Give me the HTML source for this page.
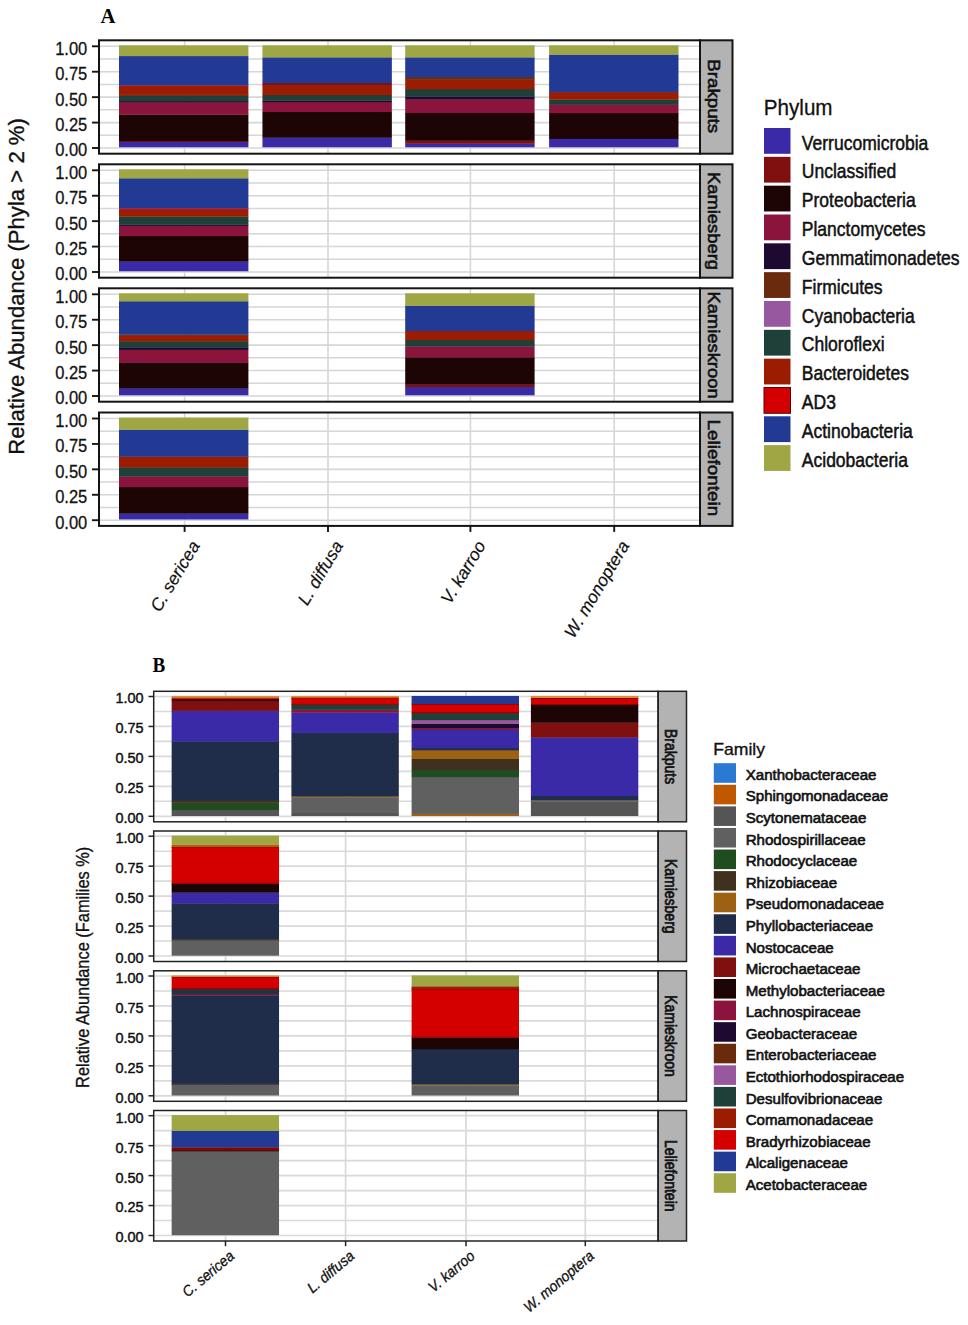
<!DOCTYPE html>
<html><head><meta charset="utf-8"><title>Figure</title>
<style>html,body{margin:0;padding:0;background:#fff;}body{width:968px;height:1325px;position:relative;overflow:hidden;font-family:"Liberation Sans", sans-serif;}</style>
</head><body>
<svg width="968" height="1325" viewBox="0 0 968 1325" style="position:absolute;left:0;top:0;display:block">
<rect x="0.00" y="0.00" width="968.00" height="1325.00" fill="#ffffff" />
<rect x="99.00" y="40.30" width="601.00" height="113.40" fill="#ffffff" />
<line x1="99.00" y1="148.00" x2="700.00" y2="148.00" stroke="#d6d6d6" stroke-width="1.6"/>
<line x1="99.00" y1="135.29" x2="700.00" y2="135.29" stroke="#d6d6d6" stroke-width="1.5"/>
<line x1="99.00" y1="122.58" x2="700.00" y2="122.58" stroke="#d6d6d6" stroke-width="1.6"/>
<line x1="99.00" y1="109.86" x2="700.00" y2="109.86" stroke="#d6d6d6" stroke-width="1.5"/>
<line x1="99.00" y1="97.15" x2="700.00" y2="97.15" stroke="#d6d6d6" stroke-width="1.6"/>
<line x1="99.00" y1="84.44" x2="700.00" y2="84.44" stroke="#d6d6d6" stroke-width="1.5"/>
<line x1="99.00" y1="71.72" x2="700.00" y2="71.72" stroke="#d6d6d6" stroke-width="1.6"/>
<line x1="99.00" y1="59.01" x2="700.00" y2="59.01" stroke="#d6d6d6" stroke-width="1.5"/>
<line x1="99.00" y1="46.30" x2="700.00" y2="46.30" stroke="#d6d6d6" stroke-width="1.6"/>
<line x1="184.60" y1="40.30" x2="184.60" y2="153.70" stroke="#d6d6d6" stroke-width="1.6"/>
<line x1="328.00" y1="40.30" x2="328.00" y2="153.70" stroke="#d6d6d6" stroke-width="1.6"/>
<line x1="470.40" y1="40.30" x2="470.40" y2="153.70" stroke="#d6d6d6" stroke-width="1.6"/>
<line x1="614.20" y1="40.30" x2="614.20" y2="153.70" stroke="#d6d6d6" stroke-width="1.6"/>
<rect x="119.00" y="141.71" width="129.40" height="5.59" fill="#3a2aa8" />
<rect x="119.00" y="140.80" width="129.40" height="1.22" fill="#801010" />
<rect x="119.00" y="114.46" width="129.40" height="26.64" fill="#1e0505" />
<rect x="119.00" y="102.15" width="129.40" height="12.61" fill="#8b143c" />
<rect x="119.00" y="101.03" width="129.40" height="1.42" fill="#1e0a30" />
<rect x="119.00" y="95.64" width="129.40" height="5.69" fill="#1f4038" />
<rect x="119.00" y="94.62" width="129.40" height="1.32" fill="#6a2a0e" />
<rect x="119.00" y="85.98" width="129.40" height="8.94" fill="#9b1c00" />
<rect x="119.00" y="85.27" width="129.40" height="1.01" fill="#d40000" />
<rect x="119.00" y="55.88" width="129.40" height="29.69" fill="#223a94" />
<rect x="119.00" y="45.30" width="129.40" height="10.88" fill="#9fa644" />
<rect x="262.45" y="137.44" width="129.40" height="9.86" fill="#3a2aa8" />
<rect x="262.45" y="111.71" width="129.40" height="26.03" fill="#1e0505" />
<rect x="262.45" y="101.85" width="129.40" height="10.16" fill="#8b143c" />
<rect x="262.45" y="100.42" width="129.40" height="1.72" fill="#1e0a30" />
<rect x="262.45" y="94.83" width="129.40" height="5.89" fill="#1f4038" />
<rect x="262.45" y="85.57" width="129.40" height="9.55" fill="#9b1c00" />
<rect x="262.45" y="82.93" width="129.40" height="2.94" fill="#801010" />
<rect x="262.45" y="57.20" width="129.40" height="26.03" fill="#223a94" />
<rect x="262.45" y="45.30" width="129.40" height="12.20" fill="#9fa644" />
<rect x="405.20" y="143.44" width="129.40" height="3.86" fill="#3a2aa8" />
<rect x="405.20" y="140.49" width="129.40" height="3.25" fill="#801010" />
<rect x="405.20" y="112.73" width="129.40" height="28.06" fill="#1e0505" />
<rect x="405.20" y="99.20" width="129.40" height="13.83" fill="#8b143c" />
<rect x="405.20" y="96.25" width="129.40" height="3.25" fill="#1e0a30" />
<rect x="405.20" y="88.93" width="129.40" height="7.62" fill="#1f4038" />
<rect x="405.20" y="79.57" width="129.40" height="9.66" fill="#9b1c00" />
<rect x="405.20" y="77.03" width="129.40" height="2.84" fill="#6a2a0e" />
<rect x="405.20" y="57.20" width="129.40" height="20.13" fill="#223a94" />
<rect x="405.20" y="45.30" width="129.40" height="12.20" fill="#9fa644" />
<rect x="549.10" y="138.66" width="129.40" height="8.64" fill="#3a2aa8" />
<rect x="549.10" y="112.93" width="129.40" height="26.03" fill="#1e0505" />
<rect x="549.10" y="104.59" width="129.40" height="8.64" fill="#8b143c" />
<rect x="549.10" y="99.40" width="129.40" height="5.49" fill="#1f4038" />
<rect x="549.10" y="92.08" width="129.40" height="7.62" fill="#9b1c00" />
<rect x="549.10" y="54.45" width="129.40" height="37.93" fill="#223a94" />
<rect x="549.10" y="45.30" width="129.40" height="9.45" fill="#9fa644" />
<rect x="700.00" y="40.30" width="32.50" height="113.40" fill="#b3b3b3" stroke="#141414" stroke-width="2"/>
<rect x="99.00" y="40.30" width="601.00" height="113.40" fill="none" stroke="#141414" stroke-width="2"/>
<text transform="translate(708.00,96.20) scale(0.92,1) rotate(90)" font-family='"Liberation Sans", sans-serif' font-size="18.767999999999997" text-anchor="middle" font-weight="normal" font-style="normal" fill="#111" stroke="#111" stroke-width="0.65">Brakputs</text>
<line x1="92.00" y1="148.00" x2="99.00" y2="148.00" stroke="#141414" stroke-width="1.9"/>
<text transform="translate(87.30,156.40) scale(0.865,1)" font-family='"Liberation Sans", sans-serif' font-size="19.1" text-anchor="end" font-weight="normal" font-style="normal" fill="#111" stroke="#111" stroke-width="0.3">0.00</text>
<line x1="92.00" y1="122.58" x2="99.00" y2="122.58" stroke="#141414" stroke-width="1.9"/>
<text transform="translate(87.30,130.97) scale(0.865,1)" font-family='"Liberation Sans", sans-serif' font-size="19.1" text-anchor="end" font-weight="normal" font-style="normal" fill="#111" stroke="#111" stroke-width="0.3">0.25</text>
<line x1="92.00" y1="97.15" x2="99.00" y2="97.15" stroke="#141414" stroke-width="1.9"/>
<text transform="translate(87.30,105.55) scale(0.865,1)" font-family='"Liberation Sans", sans-serif' font-size="19.1" text-anchor="end" font-weight="normal" font-style="normal" fill="#111" stroke="#111" stroke-width="0.3">0.50</text>
<line x1="92.00" y1="71.72" x2="99.00" y2="71.72" stroke="#141414" stroke-width="1.9"/>
<text transform="translate(87.30,80.12) scale(0.865,1)" font-family='"Liberation Sans", sans-serif' font-size="19.1" text-anchor="end" font-weight="normal" font-style="normal" fill="#111" stroke="#111" stroke-width="0.3">0.75</text>
<line x1="92.00" y1="46.30" x2="99.00" y2="46.30" stroke="#141414" stroke-width="1.9"/>
<text transform="translate(87.30,54.70) scale(0.865,1)" font-family='"Liberation Sans", sans-serif' font-size="19.1" text-anchor="end" font-weight="normal" font-style="normal" fill="#111" stroke="#111" stroke-width="0.3">1.00</text>
<rect x="99.00" y="164.30" width="601.00" height="113.40" fill="#ffffff" />
<line x1="99.00" y1="272.00" x2="700.00" y2="272.00" stroke="#d6d6d6" stroke-width="1.6"/>
<line x1="99.00" y1="259.29" x2="700.00" y2="259.29" stroke="#d6d6d6" stroke-width="1.5"/>
<line x1="99.00" y1="246.57" x2="700.00" y2="246.57" stroke="#d6d6d6" stroke-width="1.6"/>
<line x1="99.00" y1="233.86" x2="700.00" y2="233.86" stroke="#d6d6d6" stroke-width="1.5"/>
<line x1="99.00" y1="221.15" x2="700.00" y2="221.15" stroke="#d6d6d6" stroke-width="1.6"/>
<line x1="99.00" y1="208.44" x2="700.00" y2="208.44" stroke="#d6d6d6" stroke-width="1.5"/>
<line x1="99.00" y1="195.73" x2="700.00" y2="195.73" stroke="#d6d6d6" stroke-width="1.6"/>
<line x1="99.00" y1="183.01" x2="700.00" y2="183.01" stroke="#d6d6d6" stroke-width="1.5"/>
<line x1="99.00" y1="170.30" x2="700.00" y2="170.30" stroke="#d6d6d6" stroke-width="1.6"/>
<line x1="184.60" y1="164.30" x2="184.60" y2="277.70" stroke="#d6d6d6" stroke-width="1.6"/>
<line x1="328.00" y1="164.30" x2="328.00" y2="277.70" stroke="#d6d6d6" stroke-width="1.6"/>
<line x1="470.40" y1="164.30" x2="470.40" y2="277.70" stroke="#d6d6d6" stroke-width="1.6"/>
<line x1="614.20" y1="164.30" x2="614.20" y2="277.70" stroke="#d6d6d6" stroke-width="1.6"/>
<rect x="119.00" y="261.24" width="129.40" height="10.06" fill="#3a2aa8" />
<rect x="119.00" y="235.91" width="129.40" height="25.62" fill="#1e0505" />
<rect x="119.00" y="225.64" width="129.40" height="10.57" fill="#8b143c" />
<rect x="119.00" y="224.32" width="129.40" height="1.62" fill="#1e0a30" />
<rect x="119.00" y="216.39" width="129.40" height="8.23" fill="#1f4038" />
<rect x="119.00" y="209.67" width="129.40" height="7.01" fill="#9b1c00" />
<rect x="119.00" y="208.35" width="129.40" height="1.62" fill="#d40000" />
<rect x="119.00" y="178.15" width="129.40" height="30.50" fill="#223a94" />
<rect x="119.00" y="169.30" width="129.40" height="9.15" fill="#9fa644" />
<rect x="700.00" y="164.30" width="32.50" height="113.40" fill="#b3b3b3" stroke="#141414" stroke-width="2"/>
<rect x="99.00" y="164.30" width="601.00" height="113.40" fill="none" stroke="#141414" stroke-width="2"/>
<text transform="translate(708.00,221.00) scale(0.92,1) rotate(90)" font-family='"Liberation Sans", sans-serif' font-size="18.4" text-anchor="middle" font-weight="normal" font-style="normal" fill="#111" stroke="#111" stroke-width="0.65">Kamiesberg</text>
<line x1="92.00" y1="272.00" x2="99.00" y2="272.00" stroke="#141414" stroke-width="1.9"/>
<text transform="translate(87.30,280.40) scale(0.865,1)" font-family='"Liberation Sans", sans-serif' font-size="19.1" text-anchor="end" font-weight="normal" font-style="normal" fill="#111" stroke="#111" stroke-width="0.3">0.00</text>
<line x1="92.00" y1="246.57" x2="99.00" y2="246.57" stroke="#141414" stroke-width="1.9"/>
<text transform="translate(87.30,254.97) scale(0.865,1)" font-family='"Liberation Sans", sans-serif' font-size="19.1" text-anchor="end" font-weight="normal" font-style="normal" fill="#111" stroke="#111" stroke-width="0.3">0.25</text>
<line x1="92.00" y1="221.15" x2="99.00" y2="221.15" stroke="#141414" stroke-width="1.9"/>
<text transform="translate(87.30,229.55) scale(0.865,1)" font-family='"Liberation Sans", sans-serif' font-size="19.1" text-anchor="end" font-weight="normal" font-style="normal" fill="#111" stroke="#111" stroke-width="0.3">0.50</text>
<line x1="92.00" y1="195.73" x2="99.00" y2="195.73" stroke="#141414" stroke-width="1.9"/>
<text transform="translate(87.30,204.13) scale(0.865,1)" font-family='"Liberation Sans", sans-serif' font-size="19.1" text-anchor="end" font-weight="normal" font-style="normal" fill="#111" stroke="#111" stroke-width="0.3">0.75</text>
<line x1="92.00" y1="170.30" x2="99.00" y2="170.30" stroke="#141414" stroke-width="1.9"/>
<text transform="translate(87.30,178.70) scale(0.865,1)" font-family='"Liberation Sans", sans-serif' font-size="19.1" text-anchor="end" font-weight="normal" font-style="normal" fill="#111" stroke="#111" stroke-width="0.3">1.00</text>
<rect x="99.00" y="288.30" width="601.00" height="113.40" fill="#ffffff" />
<line x1="99.00" y1="396.00" x2="700.00" y2="396.00" stroke="#d6d6d6" stroke-width="1.6"/>
<line x1="99.00" y1="383.29" x2="700.00" y2="383.29" stroke="#d6d6d6" stroke-width="1.5"/>
<line x1="99.00" y1="370.57" x2="700.00" y2="370.57" stroke="#d6d6d6" stroke-width="1.6"/>
<line x1="99.00" y1="357.86" x2="700.00" y2="357.86" stroke="#d6d6d6" stroke-width="1.5"/>
<line x1="99.00" y1="345.15" x2="700.00" y2="345.15" stroke="#d6d6d6" stroke-width="1.6"/>
<line x1="99.00" y1="332.44" x2="700.00" y2="332.44" stroke="#d6d6d6" stroke-width="1.5"/>
<line x1="99.00" y1="319.73" x2="700.00" y2="319.73" stroke="#d6d6d6" stroke-width="1.6"/>
<line x1="99.00" y1="307.01" x2="700.00" y2="307.01" stroke="#d6d6d6" stroke-width="1.5"/>
<line x1="99.00" y1="294.30" x2="700.00" y2="294.30" stroke="#d6d6d6" stroke-width="1.6"/>
<line x1="184.60" y1="288.30" x2="184.60" y2="401.70" stroke="#d6d6d6" stroke-width="1.6"/>
<line x1="328.00" y1="288.30" x2="328.00" y2="401.70" stroke="#d6d6d6" stroke-width="1.6"/>
<line x1="470.40" y1="288.30" x2="470.40" y2="401.70" stroke="#d6d6d6" stroke-width="1.6"/>
<line x1="614.20" y1="288.30" x2="614.20" y2="401.70" stroke="#d6d6d6" stroke-width="1.6"/>
<rect x="119.00" y="388.29" width="129.40" height="7.01" fill="#3a2aa8" />
<rect x="119.00" y="362.66" width="129.40" height="25.93" fill="#1e0505" />
<rect x="119.00" y="349.64" width="129.40" height="13.32" fill="#8b143c" />
<rect x="119.00" y="347.20" width="129.40" height="2.74" fill="#1e0a30" />
<rect x="119.00" y="341.10" width="129.40" height="6.40" fill="#1f4038" />
<rect x="119.00" y="335.61" width="129.40" height="5.79" fill="#9b1c00" />
<rect x="119.00" y="334.29" width="129.40" height="1.62" fill="#6a2a0e" />
<rect x="119.00" y="301.13" width="129.40" height="33.45" fill="#223a94" />
<rect x="119.00" y="293.30" width="129.40" height="8.13" fill="#9fa644" />
<rect x="405.20" y="386.86" width="129.40" height="8.44" fill="#3a2aa8" />
<rect x="405.20" y="384.22" width="129.40" height="2.94" fill="#801010" />
<rect x="405.20" y="357.17" width="129.40" height="27.35" fill="#1e0505" />
<rect x="405.20" y="346.29" width="129.40" height="11.18" fill="#8b143c" />
<rect x="405.20" y="339.78" width="129.40" height="6.81" fill="#1f4038" />
<rect x="405.20" y="330.83" width="129.40" height="9.25" fill="#9b1c00" />
<rect x="405.20" y="305.61" width="129.40" height="25.52" fill="#223a94" />
<rect x="405.20" y="293.30" width="129.40" height="12.61" fill="#9fa644" />
<rect x="700.00" y="288.30" width="32.50" height="113.40" fill="#b3b3b3" stroke="#141414" stroke-width="2"/>
<rect x="99.00" y="288.30" width="601.00" height="113.40" fill="none" stroke="#141414" stroke-width="2"/>
<text transform="translate(708.00,345.00) scale(0.92,1) rotate(90)" font-family='"Liberation Sans", sans-serif' font-size="18.4" text-anchor="middle" font-weight="normal" font-style="normal" fill="#111" stroke="#111" stroke-width="0.65">Kamieskroon</text>
<line x1="92.00" y1="396.00" x2="99.00" y2="396.00" stroke="#141414" stroke-width="1.9"/>
<text transform="translate(87.30,404.40) scale(0.865,1)" font-family='"Liberation Sans", sans-serif' font-size="19.1" text-anchor="end" font-weight="normal" font-style="normal" fill="#111" stroke="#111" stroke-width="0.3">0.00</text>
<line x1="92.00" y1="370.57" x2="99.00" y2="370.57" stroke="#141414" stroke-width="1.9"/>
<text transform="translate(87.30,378.97) scale(0.865,1)" font-family='"Liberation Sans", sans-serif' font-size="19.1" text-anchor="end" font-weight="normal" font-style="normal" fill="#111" stroke="#111" stroke-width="0.3">0.25</text>
<line x1="92.00" y1="345.15" x2="99.00" y2="345.15" stroke="#141414" stroke-width="1.9"/>
<text transform="translate(87.30,353.55) scale(0.865,1)" font-family='"Liberation Sans", sans-serif' font-size="19.1" text-anchor="end" font-weight="normal" font-style="normal" fill="#111" stroke="#111" stroke-width="0.3">0.50</text>
<line x1="92.00" y1="319.73" x2="99.00" y2="319.73" stroke="#141414" stroke-width="1.9"/>
<text transform="translate(87.30,328.12) scale(0.865,1)" font-family='"Liberation Sans", sans-serif' font-size="19.1" text-anchor="end" font-weight="normal" font-style="normal" fill="#111" stroke="#111" stroke-width="0.3">0.75</text>
<line x1="92.00" y1="294.30" x2="99.00" y2="294.30" stroke="#141414" stroke-width="1.9"/>
<text transform="translate(87.30,302.70) scale(0.865,1)" font-family='"Liberation Sans", sans-serif' font-size="19.1" text-anchor="end" font-weight="normal" font-style="normal" fill="#111" stroke="#111" stroke-width="0.3">1.00</text>
<rect x="99.00" y="412.50" width="601.00" height="113.40" fill="#ffffff" />
<line x1="99.00" y1="520.20" x2="700.00" y2="520.20" stroke="#d6d6d6" stroke-width="1.6"/>
<line x1="99.00" y1="507.49" x2="700.00" y2="507.49" stroke="#d6d6d6" stroke-width="1.5"/>
<line x1="99.00" y1="494.78" x2="700.00" y2="494.78" stroke="#d6d6d6" stroke-width="1.6"/>
<line x1="99.00" y1="482.06" x2="700.00" y2="482.06" stroke="#d6d6d6" stroke-width="1.5"/>
<line x1="99.00" y1="469.35" x2="700.00" y2="469.35" stroke="#d6d6d6" stroke-width="1.6"/>
<line x1="99.00" y1="456.64" x2="700.00" y2="456.64" stroke="#d6d6d6" stroke-width="1.5"/>
<line x1="99.00" y1="443.93" x2="700.00" y2="443.93" stroke="#d6d6d6" stroke-width="1.6"/>
<line x1="99.00" y1="431.21" x2="700.00" y2="431.21" stroke="#d6d6d6" stroke-width="1.5"/>
<line x1="99.00" y1="418.50" x2="700.00" y2="418.50" stroke="#d6d6d6" stroke-width="1.6"/>
<line x1="184.60" y1="412.50" x2="184.60" y2="525.90" stroke="#d6d6d6" stroke-width="1.6"/>
<line x1="328.00" y1="412.50" x2="328.00" y2="525.90" stroke="#d6d6d6" stroke-width="1.6"/>
<line x1="470.40" y1="412.50" x2="470.40" y2="525.90" stroke="#d6d6d6" stroke-width="1.6"/>
<line x1="614.20" y1="412.50" x2="614.20" y2="525.90" stroke="#d6d6d6" stroke-width="1.6"/>
<rect x="119.00" y="513.30" width="129.40" height="6.20" fill="#3a2aa8" />
<rect x="119.00" y="486.96" width="129.40" height="26.64" fill="#1e0505" />
<rect x="119.00" y="476.28" width="129.40" height="10.98" fill="#8b143c" />
<rect x="119.00" y="467.13" width="129.40" height="9.45" fill="#1f4038" />
<rect x="119.00" y="456.45" width="129.40" height="10.98" fill="#9b1c00" />
<rect x="119.00" y="429.60" width="129.40" height="27.15" fill="#223a94" />
<rect x="119.00" y="417.50" width="129.40" height="12.40" fill="#9fa644" />
<rect x="700.00" y="412.50" width="32.50" height="113.40" fill="#b3b3b3" stroke="#141414" stroke-width="2"/>
<rect x="99.00" y="412.50" width="601.00" height="113.40" fill="none" stroke="#141414" stroke-width="2"/>
<text transform="translate(708.00,467.90) scale(0.92,1) rotate(90)" font-family='"Liberation Sans", sans-serif' font-size="18.951999999999998" text-anchor="middle" font-weight="normal" font-style="normal" fill="#111" stroke="#111" stroke-width="0.65">Leliefontein</text>
<line x1="92.00" y1="520.20" x2="99.00" y2="520.20" stroke="#141414" stroke-width="1.9"/>
<text transform="translate(87.30,528.60) scale(0.865,1)" font-family='"Liberation Sans", sans-serif' font-size="19.1" text-anchor="end" font-weight="normal" font-style="normal" fill="#111" stroke="#111" stroke-width="0.3">0.00</text>
<line x1="92.00" y1="494.78" x2="99.00" y2="494.78" stroke="#141414" stroke-width="1.9"/>
<text transform="translate(87.30,503.18) scale(0.865,1)" font-family='"Liberation Sans", sans-serif' font-size="19.1" text-anchor="end" font-weight="normal" font-style="normal" fill="#111" stroke="#111" stroke-width="0.3">0.25</text>
<line x1="92.00" y1="469.35" x2="99.00" y2="469.35" stroke="#141414" stroke-width="1.9"/>
<text transform="translate(87.30,477.75) scale(0.865,1)" font-family='"Liberation Sans", sans-serif' font-size="19.1" text-anchor="end" font-weight="normal" font-style="normal" fill="#111" stroke="#111" stroke-width="0.3">0.50</text>
<line x1="92.00" y1="443.93" x2="99.00" y2="443.93" stroke="#141414" stroke-width="1.9"/>
<text transform="translate(87.30,452.32) scale(0.865,1)" font-family='"Liberation Sans", sans-serif' font-size="19.1" text-anchor="end" font-weight="normal" font-style="normal" fill="#111" stroke="#111" stroke-width="0.3">0.75</text>
<line x1="92.00" y1="418.50" x2="99.00" y2="418.50" stroke="#141414" stroke-width="1.9"/>
<text transform="translate(87.30,426.90) scale(0.865,1)" font-family='"Liberation Sans", sans-serif' font-size="19.1" text-anchor="end" font-weight="normal" font-style="normal" fill="#111" stroke="#111" stroke-width="0.3">1.00</text>
<line x1="184.60" y1="525.90" x2="184.60" y2="531.90" stroke="#141414" stroke-width="1.9"/>
<text transform="translate(200.40,545.50) rotate(-59)" font-family='"Liberation Sans", sans-serif' font-size="17.5" text-anchor="end" font-weight="normal" font-style="italic" fill="#111" stroke="#111" stroke-width="0.2">C. sericea</text>
<line x1="328.00" y1="525.90" x2="328.00" y2="531.90" stroke="#141414" stroke-width="1.9"/>
<text transform="translate(343.80,545.50) rotate(-59)" font-family='"Liberation Sans", sans-serif' font-size="17.5" text-anchor="end" font-weight="normal" font-style="italic" fill="#111" stroke="#111" stroke-width="0.2">L. diffusa</text>
<line x1="470.40" y1="525.90" x2="470.40" y2="531.90" stroke="#141414" stroke-width="1.9"/>
<text transform="translate(486.20,545.50) rotate(-59)" font-family='"Liberation Sans", sans-serif' font-size="17.5" text-anchor="end" font-weight="normal" font-style="italic" fill="#111" stroke="#111" stroke-width="0.2">V. karroo</text>
<line x1="614.20" y1="525.90" x2="614.20" y2="531.90" stroke="#141414" stroke-width="1.9"/>
<text transform="translate(630.00,545.50) rotate(-59)" font-family='"Liberation Sans", sans-serif' font-size="17.5" text-anchor="end" font-weight="normal" font-style="italic" fill="#111" stroke="#111" stroke-width="0.2">W. monoptera</text>
<rect x="153.70" y="691.30" width="504.40" height="130.50" fill="#ffffff" />
<line x1="153.70" y1="816.30" x2="658.10" y2="816.30" stroke="#d9d9d9" stroke-width="1.7"/>
<line x1="153.70" y1="801.32" x2="658.10" y2="801.32" stroke="#d9d9d9" stroke-width="1.6"/>
<line x1="153.70" y1="786.35" x2="658.10" y2="786.35" stroke="#d9d9d9" stroke-width="1.7"/>
<line x1="153.70" y1="771.38" x2="658.10" y2="771.38" stroke="#d9d9d9" stroke-width="1.6"/>
<line x1="153.70" y1="756.40" x2="658.10" y2="756.40" stroke="#d9d9d9" stroke-width="1.7"/>
<line x1="153.70" y1="741.42" x2="658.10" y2="741.42" stroke="#d9d9d9" stroke-width="1.6"/>
<line x1="153.70" y1="726.45" x2="658.10" y2="726.45" stroke="#d9d9d9" stroke-width="1.7"/>
<line x1="153.70" y1="711.48" x2="658.10" y2="711.48" stroke="#d9d9d9" stroke-width="1.6"/>
<line x1="153.70" y1="696.50" x2="658.10" y2="696.50" stroke="#d9d9d9" stroke-width="1.7"/>
<line x1="225.50" y1="691.30" x2="225.50" y2="821.80" stroke="#d9d9d9" stroke-width="1.7"/>
<line x1="345.60" y1="691.30" x2="345.60" y2="821.80" stroke="#d9d9d9" stroke-width="1.7"/>
<line x1="466.00" y1="691.30" x2="466.00" y2="821.80" stroke="#d9d9d9" stroke-width="1.7"/>
<line x1="585.30" y1="691.30" x2="585.30" y2="821.80" stroke="#d9d9d9" stroke-width="1.7"/>
<rect x="171.65" y="809.71" width="107.40" height="6.29" fill="#555555" />
<rect x="171.65" y="802.52" width="107.40" height="7.49" fill="#1f4d1f" />
<rect x="171.65" y="800.01" width="107.40" height="2.82" fill="#40301e" />
<rect x="171.65" y="741.18" width="107.40" height="59.12" fill="#1f2c4a" />
<rect x="171.65" y="710.64" width="107.40" height="30.85" fill="#3a2aa8" />
<rect x="171.65" y="701.53" width="107.40" height="9.40" fill="#801010" />
<rect x="171.65" y="698.54" width="107.40" height="3.30" fill="#4a0505" />
<rect x="171.65" y="697.34" width="107.40" height="1.50" fill="#d40000" />
<rect x="171.65" y="695.90" width="107.40" height="1.74" fill="#d89030" />
<rect x="291.40" y="812.82" width="107.40" height="3.18" fill="#555555" />
<rect x="291.40" y="797.13" width="107.40" height="15.99" fill="#606060" />
<rect x="291.40" y="795.93" width="107.40" height="1.50" fill="#806030" />
<rect x="291.40" y="732.68" width="107.40" height="63.55" fill="#1f2c4a" />
<rect x="291.40" y="712.43" width="107.40" height="20.55" fill="#3a2aa8" />
<rect x="291.40" y="709.56" width="107.40" height="3.18" fill="#8b143c" />
<rect x="291.40" y="704.53" width="107.40" height="5.33" fill="#1f4038" />
<rect x="291.40" y="697.34" width="107.40" height="7.49" fill="#d40000" />
<line x1="291.40" y1="697.74" x2="398.80" y2="697.74" stroke="#6a0000" stroke-width="0.9"/>
<line x1="291.40" y1="704.33" x2="398.80" y2="704.33" stroke="#6a0000" stroke-width="0.7"/>
<rect x="291.40" y="695.90" width="107.40" height="1.74" fill="#d89030" />
<rect x="411.60" y="813.66" width="107.40" height="2.34" fill="#9c6212" />
<rect x="411.60" y="776.88" width="107.40" height="37.08" fill="#606060" />
<rect x="411.60" y="769.70" width="107.40" height="7.49" fill="#1f4d1f" />
<rect x="411.60" y="758.68" width="107.40" height="11.32" fill="#40301e" />
<rect x="411.60" y="750.05" width="107.40" height="8.93" fill="#9c6212" />
<rect x="411.60" y="748.01" width="107.40" height="2.34" fill="#1f2c4a" />
<rect x="411.60" y="729.80" width="107.40" height="18.51" fill="#3a2aa8" />
<rect x="411.60" y="728.25" width="107.40" height="1.86" fill="#8b143c" />
<rect x="411.60" y="723.45" width="107.40" height="5.09" fill="#1e0a30" />
<rect x="411.60" y="719.86" width="107.40" height="3.89" fill="#9858a0" />
<rect x="411.60" y="713.03" width="107.40" height="7.13" fill="#1f4038" />
<rect x="411.60" y="703.69" width="107.40" height="9.64" fill="#d40000" />
<line x1="411.60" y1="704.09" x2="519.00" y2="704.09" stroke="#6a0000" stroke-width="0.9"/>
<line x1="411.60" y1="712.83" x2="519.00" y2="712.83" stroke="#6a0000" stroke-width="0.7"/>
<rect x="411.60" y="695.90" width="107.40" height="8.09" fill="#223a94" />
<rect x="530.90" y="801.32" width="107.40" height="14.68" fill="#555555" />
<rect x="530.90" y="799.77" width="107.40" height="1.86" fill="#606060" />
<rect x="530.90" y="795.69" width="107.40" height="4.37" fill="#1f2c4a" />
<rect x="530.90" y="737.23" width="107.40" height="58.76" fill="#3a2aa8" />
<rect x="530.90" y="722.50" width="107.40" height="15.04" fill="#801010" />
<rect x="530.90" y="704.77" width="107.40" height="18.03" fill="#1e0505" />
<rect x="530.90" y="697.70" width="107.40" height="7.37" fill="#d40000" />
<line x1="530.90" y1="698.10" x2="638.30" y2="698.10" stroke="#6a0000" stroke-width="0.9"/>
<line x1="530.90" y1="704.57" x2="638.30" y2="704.57" stroke="#6a0000" stroke-width="0.7"/>
<rect x="530.90" y="695.90" width="107.40" height="2.10" fill="#d89030" />
<rect x="658.10" y="691.30" width="28.40" height="130.50" fill="#b3b3b3" stroke="#222222" stroke-width="1.5"/>
<rect x="153.70" y="691.30" width="504.40" height="130.50" fill="none" stroke="#222222" stroke-width="1.5"/>
<text transform="translate(665.00,756.55) scale(1.13,1) rotate(90)" font-family='"Liberation Sans", sans-serif' font-size="14.0" text-anchor="middle" font-weight="normal" font-style="normal" fill="#111" stroke="#111" stroke-width="0.6">Brakputs</text>
<line x1="148.50" y1="816.30" x2="153.70" y2="816.30" stroke="#222222" stroke-width="1.5"/>
<text transform="translate(143.60,823.20) scale(0.945,1)" font-family='"Liberation Sans", sans-serif' font-size="15.3" text-anchor="end" font-weight="normal" font-style="normal" fill="#111" stroke="#111" stroke-width="0.45">0.00</text>
<line x1="148.50" y1="786.35" x2="153.70" y2="786.35" stroke="#222222" stroke-width="1.5"/>
<text transform="translate(143.60,793.25) scale(0.945,1)" font-family='"Liberation Sans", sans-serif' font-size="15.3" text-anchor="end" font-weight="normal" font-style="normal" fill="#111" stroke="#111" stroke-width="0.45">0.25</text>
<line x1="148.50" y1="756.40" x2="153.70" y2="756.40" stroke="#222222" stroke-width="1.5"/>
<text transform="translate(143.60,763.30) scale(0.945,1)" font-family='"Liberation Sans", sans-serif' font-size="15.3" text-anchor="end" font-weight="normal" font-style="normal" fill="#111" stroke="#111" stroke-width="0.45">0.50</text>
<line x1="148.50" y1="726.45" x2="153.70" y2="726.45" stroke="#222222" stroke-width="1.5"/>
<text transform="translate(143.60,733.35) scale(0.945,1)" font-family='"Liberation Sans", sans-serif' font-size="15.3" text-anchor="end" font-weight="normal" font-style="normal" fill="#111" stroke="#111" stroke-width="0.45">0.75</text>
<line x1="148.50" y1="696.50" x2="153.70" y2="696.50" stroke="#222222" stroke-width="1.5"/>
<text transform="translate(143.60,703.40) scale(0.945,1)" font-family='"Liberation Sans", sans-serif' font-size="15.3" text-anchor="end" font-weight="normal" font-style="normal" fill="#111" stroke="#111" stroke-width="0.45">1.00</text>
<rect x="153.70" y="831.00" width="504.40" height="130.50" fill="#ffffff" />
<line x1="153.70" y1="956.00" x2="658.10" y2="956.00" stroke="#d9d9d9" stroke-width="1.7"/>
<line x1="153.70" y1="941.02" x2="658.10" y2="941.02" stroke="#d9d9d9" stroke-width="1.6"/>
<line x1="153.70" y1="926.05" x2="658.10" y2="926.05" stroke="#d9d9d9" stroke-width="1.7"/>
<line x1="153.70" y1="911.08" x2="658.10" y2="911.08" stroke="#d9d9d9" stroke-width="1.6"/>
<line x1="153.70" y1="896.10" x2="658.10" y2="896.10" stroke="#d9d9d9" stroke-width="1.7"/>
<line x1="153.70" y1="881.12" x2="658.10" y2="881.12" stroke="#d9d9d9" stroke-width="1.6"/>
<line x1="153.70" y1="866.15" x2="658.10" y2="866.15" stroke="#d9d9d9" stroke-width="1.7"/>
<line x1="153.70" y1="851.18" x2="658.10" y2="851.18" stroke="#d9d9d9" stroke-width="1.6"/>
<line x1="153.70" y1="836.20" x2="658.10" y2="836.20" stroke="#d9d9d9" stroke-width="1.7"/>
<line x1="225.50" y1="831.00" x2="225.50" y2="961.50" stroke="#d9d9d9" stroke-width="1.7"/>
<line x1="345.60" y1="831.00" x2="345.60" y2="961.50" stroke="#d9d9d9" stroke-width="1.7"/>
<line x1="466.00" y1="831.00" x2="466.00" y2="961.50" stroke="#d9d9d9" stroke-width="1.7"/>
<line x1="585.30" y1="831.00" x2="585.30" y2="961.50" stroke="#d9d9d9" stroke-width="1.7"/>
<rect x="171.65" y="940.31" width="107.40" height="15.39" fill="#606060" />
<rect x="171.65" y="939.11" width="107.40" height="1.50" fill="#40301e" />
<rect x="171.65" y="903.17" width="107.40" height="36.24" fill="#1f2c4a" />
<rect x="171.65" y="892.39" width="107.40" height="11.08" fill="#3a2aa8" />
<rect x="171.65" y="883.52" width="107.40" height="9.17" fill="#1e0505" />
<rect x="171.65" y="846.86" width="107.40" height="36.96" fill="#d40000" />
<line x1="171.65" y1="847.26" x2="279.05" y2="847.26" stroke="#6a0000" stroke-width="0.9"/>
<line x1="171.65" y1="883.32" x2="279.05" y2="883.32" stroke="#6a0000" stroke-width="0.7"/>
<rect x="171.65" y="844.47" width="107.40" height="2.70" fill="#c05800" />
<rect x="171.65" y="835.60" width="107.40" height="9.17" fill="#9fa644" />
<rect x="658.10" y="831.00" width="28.40" height="130.50" fill="#b3b3b3" stroke="#222222" stroke-width="1.5"/>
<rect x="153.70" y="831.00" width="504.40" height="130.50" fill="none" stroke="#222222" stroke-width="1.5"/>
<text transform="translate(665.00,896.25) scale(1.13,1) rotate(90)" font-family='"Liberation Sans", sans-serif' font-size="14.0" text-anchor="middle" font-weight="normal" font-style="normal" fill="#111" stroke="#111" stroke-width="0.6">Kamiesberg</text>
<line x1="148.50" y1="956.00" x2="153.70" y2="956.00" stroke="#222222" stroke-width="1.5"/>
<text transform="translate(143.60,962.90) scale(0.945,1)" font-family='"Liberation Sans", sans-serif' font-size="15.3" text-anchor="end" font-weight="normal" font-style="normal" fill="#111" stroke="#111" stroke-width="0.45">0.00</text>
<line x1="148.50" y1="926.05" x2="153.70" y2="926.05" stroke="#222222" stroke-width="1.5"/>
<text transform="translate(143.60,932.95) scale(0.945,1)" font-family='"Liberation Sans", sans-serif' font-size="15.3" text-anchor="end" font-weight="normal" font-style="normal" fill="#111" stroke="#111" stroke-width="0.45">0.25</text>
<line x1="148.50" y1="896.10" x2="153.70" y2="896.10" stroke="#222222" stroke-width="1.5"/>
<text transform="translate(143.60,903.00) scale(0.945,1)" font-family='"Liberation Sans", sans-serif' font-size="15.3" text-anchor="end" font-weight="normal" font-style="normal" fill="#111" stroke="#111" stroke-width="0.45">0.50</text>
<line x1="148.50" y1="866.15" x2="153.70" y2="866.15" stroke="#222222" stroke-width="1.5"/>
<text transform="translate(143.60,873.05) scale(0.945,1)" font-family='"Liberation Sans", sans-serif' font-size="15.3" text-anchor="end" font-weight="normal" font-style="normal" fill="#111" stroke="#111" stroke-width="0.45">0.75</text>
<line x1="148.50" y1="836.20" x2="153.70" y2="836.20" stroke="#222222" stroke-width="1.5"/>
<text transform="translate(143.60,843.10) scale(0.945,1)" font-family='"Liberation Sans", sans-serif' font-size="15.3" text-anchor="end" font-weight="normal" font-style="normal" fill="#111" stroke="#111" stroke-width="0.45">1.00</text>
<rect x="153.70" y="970.80" width="504.40" height="130.50" fill="#ffffff" />
<line x1="153.70" y1="1095.80" x2="658.10" y2="1095.80" stroke="#d9d9d9" stroke-width="1.7"/>
<line x1="153.70" y1="1080.83" x2="658.10" y2="1080.83" stroke="#d9d9d9" stroke-width="1.6"/>
<line x1="153.70" y1="1065.85" x2="658.10" y2="1065.85" stroke="#d9d9d9" stroke-width="1.7"/>
<line x1="153.70" y1="1050.88" x2="658.10" y2="1050.88" stroke="#d9d9d9" stroke-width="1.6"/>
<line x1="153.70" y1="1035.90" x2="658.10" y2="1035.90" stroke="#d9d9d9" stroke-width="1.7"/>
<line x1="153.70" y1="1020.92" x2="658.10" y2="1020.92" stroke="#d9d9d9" stroke-width="1.6"/>
<line x1="153.70" y1="1005.95" x2="658.10" y2="1005.95" stroke="#d9d9d9" stroke-width="1.7"/>
<line x1="153.70" y1="990.98" x2="658.10" y2="990.98" stroke="#d9d9d9" stroke-width="1.6"/>
<line x1="153.70" y1="976.00" x2="658.10" y2="976.00" stroke="#d9d9d9" stroke-width="1.7"/>
<line x1="225.50" y1="970.80" x2="225.50" y2="1101.30" stroke="#d9d9d9" stroke-width="1.7"/>
<line x1="345.60" y1="970.80" x2="345.60" y2="1101.30" stroke="#d9d9d9" stroke-width="1.7"/>
<line x1="466.00" y1="970.80" x2="466.00" y2="1101.30" stroke="#d9d9d9" stroke-width="1.7"/>
<line x1="585.30" y1="970.80" x2="585.30" y2="1101.30" stroke="#d9d9d9" stroke-width="1.7"/>
<rect x="171.65" y="1084.30" width="107.40" height="11.20" fill="#606060" />
<rect x="171.65" y="1083.22" width="107.40" height="1.38" fill="#1e0505" />
<rect x="171.65" y="995.17" width="107.40" height="88.35" fill="#1f2c4a" />
<rect x="171.65" y="993.97" width="107.40" height="1.50" fill="#8b143c" />
<rect x="171.65" y="988.94" width="107.40" height="5.33" fill="#1f3440" />
<rect x="171.65" y="976.60" width="107.40" height="12.64" fill="#d40000" />
<line x1="171.65" y1="977.00" x2="279.05" y2="977.00" stroke="#6a0000" stroke-width="0.9"/>
<line x1="171.65" y1="988.74" x2="279.05" y2="988.74" stroke="#6a0000" stroke-width="0.7"/>
<rect x="171.65" y="975.40" width="107.40" height="1.50" fill="#d89030" />
<rect x="411.60" y="1085.26" width="107.40" height="10.24" fill="#606060" />
<rect x="411.60" y="1083.94" width="107.40" height="1.62" fill="#806030" />
<rect x="411.60" y="1048.96" width="107.40" height="35.28" fill="#1f2c4a" />
<rect x="411.60" y="1037.46" width="107.40" height="11.80" fill="#1e0505" />
<rect x="411.60" y="988.58" width="107.40" height="49.18" fill="#d40000" />
<line x1="411.60" y1="988.98" x2="519.00" y2="988.98" stroke="#6a0000" stroke-width="0.9"/>
<line x1="411.60" y1="1037.26" x2="519.00" y2="1037.26" stroke="#6a0000" stroke-width="0.7"/>
<rect x="411.60" y="986.18" width="107.40" height="2.70" fill="#9b1c00" />
<rect x="411.60" y="975.40" width="107.40" height="11.08" fill="#9fa644" />
<rect x="658.10" y="970.80" width="28.40" height="130.50" fill="#b3b3b3" stroke="#222222" stroke-width="1.5"/>
<rect x="153.70" y="970.80" width="504.40" height="130.50" fill="none" stroke="#222222" stroke-width="1.5"/>
<text transform="translate(665.00,1036.05) scale(1.13,1) rotate(90)" font-family='"Liberation Sans", sans-serif' font-size="14.0" text-anchor="middle" font-weight="normal" font-style="normal" fill="#111" stroke="#111" stroke-width="0.6">Kamieskroon</text>
<line x1="148.50" y1="1095.80" x2="153.70" y2="1095.80" stroke="#222222" stroke-width="1.5"/>
<text transform="translate(143.60,1102.70) scale(0.945,1)" font-family='"Liberation Sans", sans-serif' font-size="15.3" text-anchor="end" font-weight="normal" font-style="normal" fill="#111" stroke="#111" stroke-width="0.45">0.00</text>
<line x1="148.50" y1="1065.85" x2="153.70" y2="1065.85" stroke="#222222" stroke-width="1.5"/>
<text transform="translate(143.60,1072.75) scale(0.945,1)" font-family='"Liberation Sans", sans-serif' font-size="15.3" text-anchor="end" font-weight="normal" font-style="normal" fill="#111" stroke="#111" stroke-width="0.45">0.25</text>
<line x1="148.50" y1="1035.90" x2="153.70" y2="1035.90" stroke="#222222" stroke-width="1.5"/>
<text transform="translate(143.60,1042.80) scale(0.945,1)" font-family='"Liberation Sans", sans-serif' font-size="15.3" text-anchor="end" font-weight="normal" font-style="normal" fill="#111" stroke="#111" stroke-width="0.45">0.50</text>
<line x1="148.50" y1="1005.95" x2="153.70" y2="1005.95" stroke="#222222" stroke-width="1.5"/>
<text transform="translate(143.60,1012.85) scale(0.945,1)" font-family='"Liberation Sans", sans-serif' font-size="15.3" text-anchor="end" font-weight="normal" font-style="normal" fill="#111" stroke="#111" stroke-width="0.45">0.75</text>
<line x1="148.50" y1="976.00" x2="153.70" y2="976.00" stroke="#222222" stroke-width="1.5"/>
<text transform="translate(143.60,982.90) scale(0.945,1)" font-family='"Liberation Sans", sans-serif' font-size="15.3" text-anchor="end" font-weight="normal" font-style="normal" fill="#111" stroke="#111" stroke-width="0.45">1.00</text>
<rect x="153.70" y="1110.50" width="504.40" height="130.50" fill="#ffffff" />
<line x1="153.70" y1="1235.50" x2="658.10" y2="1235.50" stroke="#d9d9d9" stroke-width="1.7"/>
<line x1="153.70" y1="1220.53" x2="658.10" y2="1220.53" stroke="#d9d9d9" stroke-width="1.6"/>
<line x1="153.70" y1="1205.55" x2="658.10" y2="1205.55" stroke="#d9d9d9" stroke-width="1.7"/>
<line x1="153.70" y1="1190.58" x2="658.10" y2="1190.58" stroke="#d9d9d9" stroke-width="1.6"/>
<line x1="153.70" y1="1175.60" x2="658.10" y2="1175.60" stroke="#d9d9d9" stroke-width="1.7"/>
<line x1="153.70" y1="1160.62" x2="658.10" y2="1160.62" stroke="#d9d9d9" stroke-width="1.6"/>
<line x1="153.70" y1="1145.65" x2="658.10" y2="1145.65" stroke="#d9d9d9" stroke-width="1.7"/>
<line x1="153.70" y1="1130.67" x2="658.10" y2="1130.67" stroke="#d9d9d9" stroke-width="1.6"/>
<line x1="153.70" y1="1115.70" x2="658.10" y2="1115.70" stroke="#d9d9d9" stroke-width="1.7"/>
<line x1="225.50" y1="1110.50" x2="225.50" y2="1241.00" stroke="#d9d9d9" stroke-width="1.7"/>
<line x1="345.60" y1="1110.50" x2="345.60" y2="1241.00" stroke="#d9d9d9" stroke-width="1.7"/>
<line x1="466.00" y1="1110.50" x2="466.00" y2="1241.00" stroke="#d9d9d9" stroke-width="1.7"/>
<line x1="585.30" y1="1110.50" x2="585.30" y2="1241.00" stroke="#d9d9d9" stroke-width="1.7"/>
<rect x="171.65" y="1151.04" width="107.40" height="84.16" fill="#606060" />
<rect x="171.65" y="1150.08" width="107.40" height="1.26" fill="#1e0505" />
<rect x="171.65" y="1147.21" width="107.40" height="3.18" fill="#8c0000" />
<rect x="171.65" y="1130.67" width="107.40" height="16.83" fill="#223a94" />
<rect x="171.65" y="1115.10" width="107.40" height="15.87" fill="#9fa644" />
<rect x="658.10" y="1110.50" width="28.40" height="130.50" fill="#b3b3b3" stroke="#222222" stroke-width="1.5"/>
<rect x="153.70" y="1110.50" width="504.40" height="130.50" fill="none" stroke="#222222" stroke-width="1.5"/>
<text transform="translate(665.00,1175.75) scale(1.13,1) rotate(90)" font-family='"Liberation Sans", sans-serif' font-size="14.0" text-anchor="middle" font-weight="normal" font-style="normal" fill="#111" stroke="#111" stroke-width="0.6">Leliefontein</text>
<line x1="148.50" y1="1235.50" x2="153.70" y2="1235.50" stroke="#222222" stroke-width="1.5"/>
<text transform="translate(143.60,1242.40) scale(0.945,1)" font-family='"Liberation Sans", sans-serif' font-size="15.3" text-anchor="end" font-weight="normal" font-style="normal" fill="#111" stroke="#111" stroke-width="0.45">0.00</text>
<line x1="148.50" y1="1205.55" x2="153.70" y2="1205.55" stroke="#222222" stroke-width="1.5"/>
<text transform="translate(143.60,1212.45) scale(0.945,1)" font-family='"Liberation Sans", sans-serif' font-size="15.3" text-anchor="end" font-weight="normal" font-style="normal" fill="#111" stroke="#111" stroke-width="0.45">0.25</text>
<line x1="148.50" y1="1175.60" x2="153.70" y2="1175.60" stroke="#222222" stroke-width="1.5"/>
<text transform="translate(143.60,1182.50) scale(0.945,1)" font-family='"Liberation Sans", sans-serif' font-size="15.3" text-anchor="end" font-weight="normal" font-style="normal" fill="#111" stroke="#111" stroke-width="0.45">0.50</text>
<line x1="148.50" y1="1145.65" x2="153.70" y2="1145.65" stroke="#222222" stroke-width="1.5"/>
<text transform="translate(143.60,1152.55) scale(0.945,1)" font-family='"Liberation Sans", sans-serif' font-size="15.3" text-anchor="end" font-weight="normal" font-style="normal" fill="#111" stroke="#111" stroke-width="0.45">0.75</text>
<line x1="148.50" y1="1115.70" x2="153.70" y2="1115.70" stroke="#222222" stroke-width="1.5"/>
<text transform="translate(143.60,1122.60) scale(0.945,1)" font-family='"Liberation Sans", sans-serif' font-size="15.3" text-anchor="end" font-weight="normal" font-style="normal" fill="#111" stroke="#111" stroke-width="0.45">1.00</text>
<line x1="225.50" y1="1241.00" x2="225.50" y2="1246.20" stroke="#222222" stroke-width="1.5"/>
<text transform="translate(235.30,1257.60) rotate(-40) scale(0.955,1.03)" font-family='"Liberation Sans", sans-serif' font-size="14.5" text-anchor="end" font-weight="normal" font-style="italic" fill="#111" stroke="#111" stroke-width="0.3">C. sericea</text>
<line x1="345.60" y1="1241.00" x2="345.60" y2="1246.20" stroke="#222222" stroke-width="1.5"/>
<text transform="translate(355.40,1257.60) rotate(-40) scale(0.955,1.03)" font-family='"Liberation Sans", sans-serif' font-size="14.5" text-anchor="end" font-weight="normal" font-style="italic" fill="#111" stroke="#111" stroke-width="0.3">L. diffusa</text>
<line x1="466.00" y1="1241.00" x2="466.00" y2="1246.20" stroke="#222222" stroke-width="1.5"/>
<text transform="translate(475.80,1257.60) rotate(-40) scale(0.955,1.03)" font-family='"Liberation Sans", sans-serif' font-size="14.5" text-anchor="end" font-weight="normal" font-style="italic" fill="#111" stroke="#111" stroke-width="0.3">V. karroo</text>
<line x1="585.30" y1="1241.00" x2="585.30" y2="1246.20" stroke="#222222" stroke-width="1.5"/>
<text transform="translate(595.10,1257.60) rotate(-40) scale(0.955,1.03)" font-family='"Liberation Sans", sans-serif' font-size="14.5" text-anchor="end" font-weight="normal" font-style="italic" fill="#111" stroke="#111" stroke-width="0.3">W. monoptera</text>
<text transform="translate(100.6,22.8) scale(0.967,1)" font-family='"Liberation Serif", serif' font-size="21.4" text-anchor="start" font-weight="bold" font-style="normal" fill="#000" >A</text>
<text transform="translate(152.5,672.3) scale(0.91,1)" font-family='"Liberation Serif", serif' font-size="21" text-anchor="start" font-weight="bold" font-style="normal" fill="#000" >B</text>
<text transform="translate(23.6,286.4) rotate(-90)" font-family='"Liberation Sans", sans-serif' font-size="22.15" text-anchor="middle" font-weight="normal" font-style="normal" fill="#111" stroke="#111" stroke-width="0.35">Relative Abundance (Phyla &gt; 2 %)</text>
<text transform="translate(88.8,967.3) scale(1.08,1) rotate(-90)" font-family='"Liberation Sans", sans-serif' font-size="16.4" text-anchor="middle" font-weight="normal" font-style="normal" fill="#111" stroke="#111" stroke-width="0.3">Relative Abundance (Families %)</text>
<text transform="translate(763.8,115.4) scale(0.925,1)" font-family='"Liberation Sans", sans-serif' font-size="22.3" text-anchor="start" font-weight="normal" font-style="normal" fill="#111" stroke="#111" stroke-width="0.3">Phylum</text>
<rect x="764.00" y="128.00" width="26.50" height="25.80" fill="#3a2aa8" />
<text transform="translate(801.8,149.60) scale(0.908,1)" font-family='"Liberation Sans", sans-serif' font-size="19.3" text-anchor="start" font-weight="normal" font-style="normal" fill="#111" stroke="#111" stroke-width="0.5">Verrucomicrobia</text>
<rect x="764.00" y="156.83" width="26.50" height="25.80" fill="#801010" />
<text transform="translate(801.8,178.43) scale(0.908,1)" font-family='"Liberation Sans", sans-serif' font-size="19.3" text-anchor="start" font-weight="normal" font-style="normal" fill="#111" stroke="#111" stroke-width="0.5">Unclassified</text>
<rect x="764.00" y="185.66" width="26.50" height="25.80" fill="#1e0505" />
<text transform="translate(801.8,207.26) scale(0.908,1)" font-family='"Liberation Sans", sans-serif' font-size="19.3" text-anchor="start" font-weight="normal" font-style="normal" fill="#111" stroke="#111" stroke-width="0.5">Proteobacteria</text>
<rect x="764.00" y="214.49" width="26.50" height="25.80" fill="#8b143c" />
<text transform="translate(801.8,236.09) scale(0.908,1)" font-family='"Liberation Sans", sans-serif' font-size="19.3" text-anchor="start" font-weight="normal" font-style="normal" fill="#111" stroke="#111" stroke-width="0.5">Planctomycetes</text>
<rect x="764.00" y="243.32" width="26.50" height="25.80" fill="#1e0a30" />
<text transform="translate(801.8,264.92) scale(0.908,1)" font-family='"Liberation Sans", sans-serif' font-size="19.3" text-anchor="start" font-weight="normal" font-style="normal" fill="#111" stroke="#111" stroke-width="0.5">Gemmatimonadetes</text>
<rect x="764.00" y="272.15" width="26.50" height="25.80" fill="#6a2a0e" />
<text transform="translate(801.8,293.75) scale(0.908,1)" font-family='"Liberation Sans", sans-serif' font-size="19.3" text-anchor="start" font-weight="normal" font-style="normal" fill="#111" stroke="#111" stroke-width="0.5">Firmicutes</text>
<rect x="764.00" y="300.98" width="26.50" height="25.80" fill="#9858a0" />
<text transform="translate(801.8,322.58) scale(0.908,1)" font-family='"Liberation Sans", sans-serif' font-size="19.3" text-anchor="start" font-weight="normal" font-style="normal" fill="#111" stroke="#111" stroke-width="0.5">Cyanobacteria</text>
<rect x="764.00" y="329.81" width="26.50" height="25.80" fill="#1f4038" />
<text transform="translate(801.8,351.41) scale(0.908,1)" font-family='"Liberation Sans", sans-serif' font-size="19.3" text-anchor="start" font-weight="normal" font-style="normal" fill="#111" stroke="#111" stroke-width="0.5">Chloroflexi</text>
<rect x="764.00" y="358.64" width="26.50" height="25.80" fill="#9b1c00" />
<text transform="translate(801.8,380.24) scale(0.908,1)" font-family='"Liberation Sans", sans-serif' font-size="19.3" text-anchor="start" font-weight="normal" font-style="normal" fill="#111" stroke="#111" stroke-width="0.5">Bacteroidetes</text>
<rect x="764.00" y="387.47" width="26.50" height="25.80" fill="#d40000" stroke="#5a0000" stroke-width="1"/>
<text transform="translate(801.8,409.07) scale(0.908,1)" font-family='"Liberation Sans", sans-serif' font-size="19.3" text-anchor="start" font-weight="normal" font-style="normal" fill="#111" stroke="#111" stroke-width="0.5">AD3</text>
<rect x="764.00" y="416.30" width="26.50" height="25.80" fill="#223a94" />
<text transform="translate(801.8,437.90) scale(0.908,1)" font-family='"Liberation Sans", sans-serif' font-size="19.3" text-anchor="start" font-weight="normal" font-style="normal" fill="#111" stroke="#111" stroke-width="0.5">Actinobacteria</text>
<rect x="764.00" y="445.13" width="26.50" height="25.80" fill="#9fa644" />
<text transform="translate(801.8,466.73) scale(0.908,1)" font-family='"Liberation Sans", sans-serif' font-size="19.3" text-anchor="start" font-weight="normal" font-style="normal" fill="#111" stroke="#111" stroke-width="0.5">Acidobacteria</text>
<text transform="translate(713.3,754.8) scale(1.06,1)" font-family='"Liberation Sans", sans-serif' font-size="16.6" text-anchor="start" font-weight="normal" font-style="normal" fill="#111" stroke="#111" stroke-width="0.35">Family</text>
<rect x="713.80" y="763.20" width="22.20" height="19.60" fill="#2a7ad4" />
<text transform="translate(745.7,779.90) scale(1.055,1)" font-family='"Liberation Sans", sans-serif' font-size="14.3" text-anchor="start" font-weight="normal" font-style="normal" fill="#111" stroke="#111" stroke-width="0.6">Xanthobacteraceae</text>
<rect x="713.80" y="784.78" width="22.20" height="19.60" fill="#c05800" />
<text transform="translate(745.7,801.48) scale(1.055,1)" font-family='"Liberation Sans", sans-serif' font-size="14.3" text-anchor="start" font-weight="normal" font-style="normal" fill="#111" stroke="#111" stroke-width="0.6">Sphingomonadaceae</text>
<rect x="713.80" y="806.36" width="22.20" height="19.60" fill="#555555" />
<text transform="translate(745.7,823.06) scale(1.055,1)" font-family='"Liberation Sans", sans-serif' font-size="14.3" text-anchor="start" font-weight="normal" font-style="normal" fill="#111" stroke="#111" stroke-width="0.6">Scytonemataceae</text>
<rect x="713.80" y="827.94" width="22.20" height="19.60" fill="#606060" />
<text transform="translate(745.7,844.64) scale(1.055,1)" font-family='"Liberation Sans", sans-serif' font-size="14.3" text-anchor="start" font-weight="normal" font-style="normal" fill="#111" stroke="#111" stroke-width="0.6">Rhodospirillaceae</text>
<rect x="713.80" y="849.52" width="22.20" height="19.60" fill="#1f4d1f" />
<text transform="translate(745.7,866.22) scale(1.055,1)" font-family='"Liberation Sans", sans-serif' font-size="14.3" text-anchor="start" font-weight="normal" font-style="normal" fill="#111" stroke="#111" stroke-width="0.6">Rhodocyclaceae</text>
<rect x="713.80" y="871.10" width="22.20" height="19.60" fill="#40301e" />
<text transform="translate(745.7,887.80) scale(1.055,1)" font-family='"Liberation Sans", sans-serif' font-size="14.3" text-anchor="start" font-weight="normal" font-style="normal" fill="#111" stroke="#111" stroke-width="0.6">Rhizobiaceae</text>
<rect x="713.80" y="892.68" width="22.20" height="19.60" fill="#9c6212" />
<text transform="translate(745.7,909.38) scale(1.055,1)" font-family='"Liberation Sans", sans-serif' font-size="14.3" text-anchor="start" font-weight="normal" font-style="normal" fill="#111" stroke="#111" stroke-width="0.6">Pseudomonadaceae</text>
<rect x="713.80" y="914.26" width="22.20" height="19.60" fill="#1f2c4a" />
<text transform="translate(745.7,930.96) scale(1.055,1)" font-family='"Liberation Sans", sans-serif' font-size="14.3" text-anchor="start" font-weight="normal" font-style="normal" fill="#111" stroke="#111" stroke-width="0.6">Phyllobacteriaceae</text>
<rect x="713.80" y="935.84" width="22.20" height="19.60" fill="#3a2aa8" />
<text transform="translate(745.7,952.54) scale(1.055,1)" font-family='"Liberation Sans", sans-serif' font-size="14.3" text-anchor="start" font-weight="normal" font-style="normal" fill="#111" stroke="#111" stroke-width="0.6">Nostocaceae</text>
<rect x="713.80" y="957.42" width="22.20" height="19.60" fill="#801010" />
<text transform="translate(745.7,974.12) scale(1.055,1)" font-family='"Liberation Sans", sans-serif' font-size="14.3" text-anchor="start" font-weight="normal" font-style="normal" fill="#111" stroke="#111" stroke-width="0.6">Microchaetaceae</text>
<rect x="713.80" y="979.00" width="22.20" height="19.60" fill="#1e0505" />
<text transform="translate(745.7,995.70) scale(1.055,1)" font-family='"Liberation Sans", sans-serif' font-size="14.3" text-anchor="start" font-weight="normal" font-style="normal" fill="#111" stroke="#111" stroke-width="0.6">Methylobacteriaceae</text>
<rect x="713.80" y="1000.58" width="22.20" height="19.60" fill="#8b143c" />
<text transform="translate(745.7,1017.28) scale(1.055,1)" font-family='"Liberation Sans", sans-serif' font-size="14.3" text-anchor="start" font-weight="normal" font-style="normal" fill="#111" stroke="#111" stroke-width="0.6">Lachnospiraceae</text>
<rect x="713.80" y="1022.16" width="22.20" height="19.60" fill="#1e0a30" />
<text transform="translate(745.7,1038.86) scale(1.055,1)" font-family='"Liberation Sans", sans-serif' font-size="14.3" text-anchor="start" font-weight="normal" font-style="normal" fill="#111" stroke="#111" stroke-width="0.6">Geobacteraceae</text>
<rect x="713.80" y="1043.74" width="22.20" height="19.60" fill="#6a2a0e" />
<text transform="translate(745.7,1060.44) scale(1.055,1)" font-family='"Liberation Sans", sans-serif' font-size="14.3" text-anchor="start" font-weight="normal" font-style="normal" fill="#111" stroke="#111" stroke-width="0.6">Enterobacteriaceae</text>
<rect x="713.80" y="1065.32" width="22.20" height="19.60" fill="#9858a0" />
<text transform="translate(745.7,1082.02) scale(1.055,1)" font-family='"Liberation Sans", sans-serif' font-size="14.3" text-anchor="start" font-weight="normal" font-style="normal" fill="#111" stroke="#111" stroke-width="0.6">Ectothiorhodospiraceae</text>
<rect x="713.80" y="1086.90" width="22.20" height="19.60" fill="#1f4038" />
<text transform="translate(745.7,1103.60) scale(1.055,1)" font-family='"Liberation Sans", sans-serif' font-size="14.3" text-anchor="start" font-weight="normal" font-style="normal" fill="#111" stroke="#111" stroke-width="0.6">Desulfovibrionaceae</text>
<rect x="713.80" y="1108.48" width="22.20" height="19.60" fill="#9b1c00" />
<text transform="translate(745.7,1125.18) scale(1.055,1)" font-family='"Liberation Sans", sans-serif' font-size="14.3" text-anchor="start" font-weight="normal" font-style="normal" fill="#111" stroke="#111" stroke-width="0.6">Comamonadaceae</text>
<rect x="713.80" y="1130.06" width="22.20" height="19.60" fill="#d40000" />
<text transform="translate(745.7,1146.76) scale(1.055,1)" font-family='"Liberation Sans", sans-serif' font-size="14.3" text-anchor="start" font-weight="normal" font-style="normal" fill="#111" stroke="#111" stroke-width="0.6">Bradyrhizobiaceae</text>
<rect x="713.80" y="1151.64" width="22.20" height="19.60" fill="#223a94" />
<text transform="translate(745.7,1168.34) scale(1.055,1)" font-family='"Liberation Sans", sans-serif' font-size="14.3" text-anchor="start" font-weight="normal" font-style="normal" fill="#111" stroke="#111" stroke-width="0.6">Alcaligenaceae</text>
<rect x="713.80" y="1173.22" width="22.20" height="19.60" fill="#9fa644" />
<text transform="translate(745.7,1189.92) scale(1.055,1)" font-family='"Liberation Sans", sans-serif' font-size="14.3" text-anchor="start" font-weight="normal" font-style="normal" fill="#111" stroke="#111" stroke-width="0.6">Acetobacteraceae</text>
</svg>
</body></html>
